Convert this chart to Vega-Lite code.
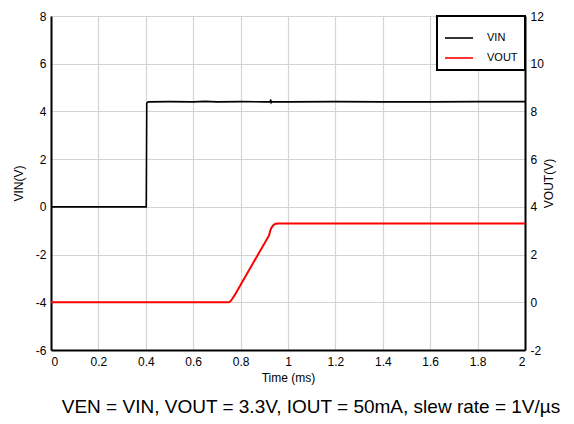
{
  "$schema": "https://vega.github.io/schema/vega-lite/v6.json",
  "width": 474,
  "height": 334,
  "autosize": {"type": "none"},
  "padding": {"left": 51, "top": 16, "right": 49, "bottom": 74},
  "background": "white",
  "title": {
    "text": "VEN = VIN, VOUT = 3.3V, IOUT = 50mA, slew rate = 1V/µs",
    "orient": "bottom",
    "anchor": "middle",
    "font": "Liberation Sans",
    "fontSize": 19,
    "fontWeight": "normal",
    "color": "black",
    "offset": 15,
    "dx": 23
  },
  "datasets": {
    "vin": [
      {"t": 0, "v": 0, "s": "VIN"},
      {"t": 0.402, "v": 0, "s": "VIN"},
      {"t": 0.404, "v": 4.35, "s": "VIN"},
      {"t": 0.41, "v": 4.4, "s": "VIN"},
      {"t": 0.5, "v": 4.41, "s": "VIN"},
      {"t": 0.6, "v": 4.4, "s": "VIN"},
      {"t": 0.65, "v": 4.42, "s": "VIN"},
      {"t": 0.7, "v": 4.4, "s": "VIN"},
      {"t": 0.8, "v": 4.41, "s": "VIN"},
      {"t": 0.9, "v": 4.4, "s": "VIN"},
      {"t": 0.925, "v": 4.41, "s": "VIN"},
      {"t": 0.927, "v": 4.5, "s": "VIN"},
      {"t": 0.929, "v": 4.37, "s": "VIN"},
      {"t": 0.932, "v": 4.41, "s": "VIN"},
      {"t": 1.0, "v": 4.4, "s": "VIN"},
      {"t": 1.2, "v": 4.41, "s": "VIN"},
      {"t": 1.4, "v": 4.4, "s": "VIN"},
      {"t": 1.6, "v": 4.4, "s": "VIN"},
      {"t": 1.8, "v": 4.41, "s": "VIN"},
      {"t": 2.0, "v": 4.41, "s": "VIN"}
    ],
    "vout": [
      {"t": 0, "v": 0, "s": "VOUT"},
      {"t": 0.75, "v": 0, "s": "VOUT"},
      {"t": 0.758, "v": 0.05, "s": "VOUT"},
      {"t": 0.765, "v": 0.15, "s": "VOUT"},
      {"t": 0.775, "v": 0.3, "s": "VOUT"},
      {"t": 0.92, "v": 2.8, "s": "VOUT"},
      {"t": 0.925, "v": 3.0, "s": "VOUT"},
      {"t": 0.93, "v": 3.12, "s": "VOUT"},
      {"t": 0.937, "v": 3.22, "s": "VOUT"},
      {"t": 0.947, "v": 3.29, "s": "VOUT"},
      {"t": 0.96, "v": 3.3, "s": "VOUT"},
      {"t": 1.2, "v": 3.3, "s": "VOUT"},
      {"t": 1.6, "v": 3.3, "s": "VOUT"},
      {"t": 2.0, "v": 3.3, "s": "VOUT"}
    ]
  },
  "layer": [
    {
      "data": {"name": "vin"},
      "mark": {"type": "line", "strokeWidth": 1.6, "clip": true},
      "encoding": {
        "x": {
          "field": "t", "type": "quantitative",
          "scale": {"domain": [0, 2], "nice": false},
          "axis": {"title": "Time (ms)", "values": [0, 0.2, 0.4, 0.6, 0.8, 1, 1.2, 1.4, 1.6, 1.8, 2], "titlePadding": 5, "labelPadding": 6}
        },
        "y": {
          "field": "v", "type": "quantitative",
          "scale": {"domain": [-6, 8], "nice": false},
          "axis": {"title": "VIN(V)", "orient": "left", "values": [-6, -4, -2, 0, 2, 4, 6, 8], "titlePadding": 10}
        },
        "color": {
          "field": "s", "type": "nominal",
          "scale": {"domain": ["VIN", "VOUT"], "range": ["#000000", "#ff0000"]},
          "legend": {
            "title": null,
            "orient": "top-right",
            "offset": 0,
            "symbolType": "stroke",
            "symbolSize": 784,
            "symbolStrokeWidth": 1.6,
            "fillColor": "white",
            "strokeColor": "black",
            "padding": 7,
            "rowPadding": -4,
            "labelOffset": 13,
            "labelFontSize": 11,
            "labelFont": "Liberation Sans",
            "labelColor": "black"
          }
        }
      }
    },
    {
      "data": {"name": "vout"},
      "mark": {"type": "line", "strokeWidth": 2, "clip": true},
      "encoding": {
        "x": {"field": "t", "type": "quantitative"},
        "y": {
          "field": "v", "type": "quantitative",
          "scale": {"domain": [-2, 12], "nice": false},
          "axis": {"title": "VOUT(V)", "orient": "right", "grid": false, "values": [-2, 0, 2, 4, 6, 8, 10, 12], "titlePadding": 12, "titleAngle": 270}
        },
        "color": {"field": "s", "type": "nominal"}
      }
    }
  ],
  "resolve": {"scale": {"y": "independent"}},
  "config": {
    "view": {"stroke": null},
    "axis": {
      "labelFont": "Liberation Sans",
      "labelFontSize": 12,
      "labelColor": "black",
      "labelExpr": "replace(format(datum.value, '~g'), '\u2212', '-')",
      "titleFont": "Liberation Sans",
      "titleFontSize": 12,
      "titleFontWeight": "normal",
      "titleColor": "black",
      "ticks": false,
      "labelPadding": 5,
      "domainColor": "black",
      "domainWidth": 2,
      "gridColor": "#d4d4d4",
      "gridWidth": 1.2
    },
    "legend": {"strokeWidth": 2}
  }
}
